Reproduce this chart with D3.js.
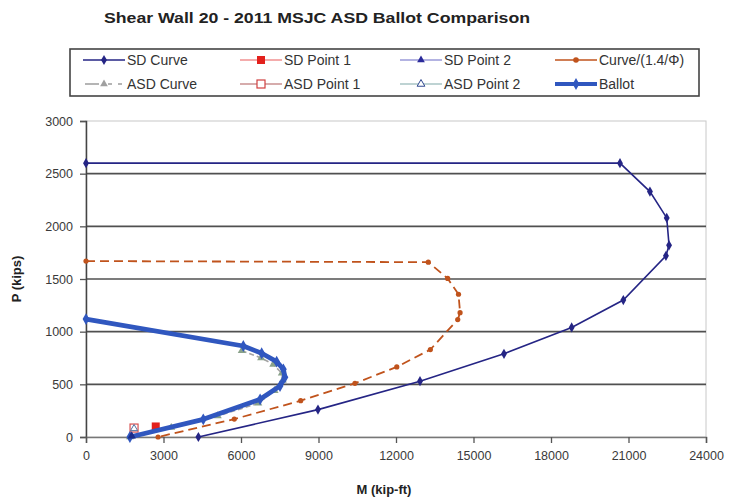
<!DOCTYPE html>
<html><head><meta charset="utf-8">
<script src="https://cdn.jsdelivr.net/npm/d3@7"></script>
<style>
body{margin:0;background:#fff;}
svg{display:block;font-family:"Liberation Sans",Arial,sans-serif;}
</style></head><body>
<div id="chart"></div>
<script>
// ---- data (M in kip-ft, P in kips) ----
const xTicks = [0,3000,6000,9000,12000,15000,18000,21000,24000];
const yTicks = [0,500,1000,1500,2000,2500,3000];

const sdCurveM = [0,20670,21830,22480,22570,22450,20800,18800,16180,12930,8980,4350];
const sdCurveP = [2600,2600,2330,2080,1820,1720,1300,1040,790,530,260,0];

const phiCurveM = [0,13250,14000,14420,14480,14390,13330,12030,10410,8310,5740,2790];
const phiCurveP = [1670,1660,1505,1355,1180,1115,830,665,510,345,170,0];

const asdCurveM = [6030,6780,7250,7580,7620,7300,6670,5100,3300,1700];
const asdCurveP = [820,750,690,605,540,440,320,200,90,0];

const ballotM = [0,6090,6800,7380,7640,7700,7510,6740,4540,1700];
const ballotP = [1120,864,795,715,643,567,484,358,168,0];

const sdPoint1 = [2700,100];
const asdPoint1 = [1860,85];
const sdPoint2 = [1770,0];
const asdPoint2 = [1860,80];

const legendLabels = ["SD Curve","SD Point 1","SD Point 2","Curve/(1.4/\u03A6)",
                      "ASD Curve","ASD Point 1","ASD Point 2","Ballot"];

// ---- drawing ----
const W=734,H=498;
const svg=d3.select("#chart").append("svg").attr("width",W).attr("height",H);
const x=d3.scaleLinear().domain([0,24000]).range([86,706]);
const y=d3.scaleLinear().domain([0,3000]).range([437,121]);
const zip=(a,b)=>a.map((v,i)=>[v,b[i]]);
const line=d3.line().x(d=>x(d[0])).y(d=>y(d[1]));

// title
svg.append("text").attr("x",104).attr("y",23).attr("font-size",15).attr("font-weight","bold")
  .attr("fill","#222").attr("textLength",426).attr("lengthAdjust","spacingAndGlyphs")
  .text("Shear Wall 20 - 2011 MSJC ASD Ballot Comparison");

// plot border (light)
svg.append("rect").attr("x",86).attr("y",121).attr("width",620).attr("height",316)
  .attr("fill","none").attr("stroke","#c8c8c8").attr("stroke-width",1);

// gridlines
svg.append("g").selectAll("line").data(yTicks.filter(t=>t>0&&t<3000)).join("line")
  .attr("x1",86).attr("x2",706).attr("y1",d=>y(d)).attr("y2",d=>y(d))
  .attr("stroke","#505050").attr("stroke-width",1.6);

// axes
const yAxis=d3.axisLeft(y).tickValues(yTicks).tickSize(6).tickPadding(6).tickFormat(d3.format("d"));
const gy=svg.append("g").attr("transform","translate(86,0)").call(yAxis);
const xAxis=d3.axisBottom(x).tickValues(xTicks).tickSize(6).tickPadding(6).tickFormat(d3.format("d"));
const gx=svg.append("g").attr("transform","translate(0,437)").call(xAxis);
[gx,gy].forEach(g=>{
  g.select(".domain").attr("stroke","#444").attr("stroke-width",1.5);
  g.selectAll(".tick line").attr("stroke","#555").attr("stroke-width",1.3);
  g.selectAll("text").attr("font-size",12.5).attr("fill","#3a3a3a").attr("font-family","Liberation Sans, Arial, sans-serif");
});
gy.selectAll("text").attr("x",-13);
gx.select(".domain").attr("stroke","#777");
gx.selectAll("text").attr("dy","0.9em");

// axis titles
svg.append("text").attr("x",384).attr("y",494).attr("text-anchor","middle")
  .attr("font-size",13).attr("font-weight","bold").attr("fill","#222").text("M (kip-ft)");
svg.append("text").attr("transform","translate(21,279) rotate(-90)").attr("text-anchor","middle")
  .attr("font-size",13).attr("font-weight","bold").attr("fill","#222").text("P (kips)");

// markers
const diamond=d3.symbol().type(d3.symbolDiamond);
const tri=d3.symbol().type(d3.symbolTriangle);

const colSD="#252585", colPhi="#c0531c", colASD="#a3a3a3", colBal="#3057bf";

// SD Curve
const sd=zip(sdCurveM,sdCurveP);
svg.append("path").attr("d",line(sd)).attr("fill","none").attr("stroke",colSD).attr("stroke-width",1.6);
svg.append("g").selectAll("path").data(sd).join("path").attr("d",diamond.size(30)())
  .attr("transform",d=>`translate(${x(d[0])},${y(d[1])})`).attr("fill",colSD);

// Curve/(1.4/phi)
const ph=zip(phiCurveM,phiCurveP);
svg.append("path").attr("d",line(ph)).attr("fill","none").attr("stroke",colPhi)
  .attr("stroke-width",1.8).attr("stroke-dasharray","9,5");
svg.append("g").selectAll("circle").data(ph).join("circle").attr("r",2.6)
  .attr("cx",d=>x(d[0])).attr("cy",d=>y(d[1])).attr("fill",colPhi);

// ASD Curve
const asd=zip(asdCurveM,asdCurveP);
svg.append("path").attr("d",line(asd)).attr("fill","none").attr("stroke",colASD)
  .attr("stroke-width",1.6).attr("stroke-dasharray","5,3");
svg.append("g").selectAll("path").data(asd).join("path").attr("d",tri.size(28)())
  .attr("transform",d=>`translate(${x(d[0])},${y(d[1])})`).attr("fill","#8aa28a");

// points
svg.append("rect").attr("x",x(asdPoint1[0])-4).attr("y",y(asdPoint1[1])-4).attr("width",8).attr("height",8)
  .attr("fill","none").attr("stroke","#d85050").attr("stroke-width",1.2);
svg.append("path").attr("d",tri.size(22)()).attr("transform",`translate(${x(asdPoint2[0])},${y(asdPoint2[1])})`)
  .attr("fill","none").attr("stroke","#5070a0").attr("stroke-width",1);
svg.append("rect").attr("x",x(sdPoint1[0])-4).attr("y",y(sdPoint1[1])-4).attr("width",8).attr("height",8)
  .attr("fill","#e3201c");

// Ballot
const bal=zip(ballotM,ballotP);
svg.append("path").attr("d",line(bal)).attr("fill","none").attr("stroke",colBal)
  .attr("stroke-width",4.8).attr("stroke-linejoin","round").attr("stroke-linecap","round");
svg.append("g").selectAll("path").data(bal).join("path").attr("d",diamond.size(40)())
  .attr("transform",d=>`translate(${x(d[0])},${y(d[1])})`).attr("fill",colBal);

svg.append("path").attr("d",tri.size(30)()).attr("transform",`translate(${x(sdPoint2[0])},${y(sdPoint2[1])-1})`)
  .attr("fill","#1c2d8a");

// legend
const lg=svg.append("g");
lg.append("rect").attr("x",70).attr("y",49).attr("width",629).attr("height",47)
  .attr("fill","#fff").attr("stroke","#444").attr("stroke-width",1.6);
const colX=[83,240,400,555], rowY=[60,84];
const items=[
 {line:colSD,w:1.6,mk:"diamond",mc:colSD},
 {line:"#f09090",w:1.6,mk:"square",mc:"#e3201c"},
 {line:"#9a9ad8",w:1.6,mk:"tri",mc:"#2a2a9a"},
 {line:colPhi,w:1.6,mk:"circle",mc:colPhi},
 {line:colASD,w:1.6,mk:"tri",mc:"#a0a0a0",dash:true},
 {line:"#c89090",w:1.6,mk:"hsquare",mc:"#d04040"},
 {line:"#a8c4c4",w:1.6,mk:"htri",mc:"#304890"},
 {line:colBal,w:4,mk:"diamond",mc:colBal}
];
items.forEach((it,i)=>{
  const cx=colX[i%4], cy=rowY[Math.floor(i/4)];
  const g=lg.append("g");
  if(it.dash){
    g.append("line").attr("x1",cx+2).attr("x2",cx+16).attr("y1",cy).attr("y2",cy).attr("stroke",it.line).attr("stroke-width",it.w);
    g.append("line").attr("x1",cx+25).attr("x2",cx+29).attr("y1",cy).attr("y2",cy).attr("stroke",it.line).attr("stroke-width",it.w);
    g.append("line").attr("x1",cx+35).attr("x2",cx+39).attr("y1",cy).attr("y2",cy).attr("stroke",it.line).attr("stroke-width",it.w);
  } else {
    g.append("line").attr("x1",cx).attr("x2",cx+42).attr("y1",cy).attr("y2",cy).attr("stroke",it.line).attr("stroke-width",it.w);
  }
  const mx=cx+21;
  if(it.mk==="diamond") g.append("path").attr("d",diamond.size(it.w>2?40:30)()).attr("transform",`translate(${mx},${cy})`).attr("fill",it.mc);
  if(it.mk==="square") g.append("rect").attr("x",mx-4).attr("y",cy-4).attr("width",8).attr("height",8).attr("fill",it.mc);
  if(it.mk==="hsquare") g.append("rect").attr("x",mx-4).attr("y",cy-4).attr("width",8).attr("height",8).attr("fill","#fff").attr("stroke",it.mc).attr("stroke-width",1.2);
  if(it.mk==="tri") g.append("path").attr("d",tri.size(26)()).attr("transform",`translate(${mx},${cy})`).attr("fill",it.mc);
  if(it.mk==="htri") g.append("path").attr("d",tri.size(26)()).attr("transform",`translate(${mx},${cy})`).attr("fill","#fff").attr("stroke",it.mc).attr("stroke-width",1);
  if(it.mk==="circle") g.append("circle").attr("cx",mx).attr("cy",cy).attr("r",2.8).attr("fill",it.mc);
  g.append("text").attr("x",cx+44).attr("y",cy+5).attr("font-size",14).attr("fill","#333")
    .text(legendLabels[i]);
});
</script>
</body></html>
